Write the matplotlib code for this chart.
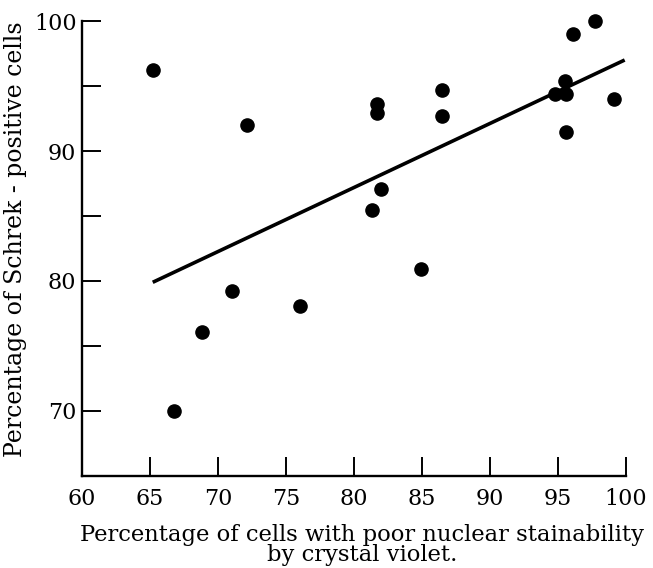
import matplotlib.pyplot as plt

poor_stain = [65.2, 66.8, 68.8, 71.0, 72.1, 76.0, 81.3, 82.0, 81.7, 81.7,
              84.9, 86.5, 86.5, 94.8, 95.6, 95.5, 95.6, 96.1, 97.7, 99.1]
schrek_pos = [96.2, 70.0, 76.1, 79.2, 92.0, 78.1, 85.5, 87.1, 93.6, 92.9,
              80.9, 94.7, 92.7, 94.4, 94.4, 95.4, 91.5, 99.0, 100.0, 94.0]

# regression line end points
line_x = [65.2, 99.9]
line_y = [79.9, 97.0]

x_ticks = [60, 65, 70, 75, 80, 85, 90, 95, 100]
y_ticks = [70, 75, 80, 85, 90, 95, 100]
y_labels = ['70', '', '80', '', '90', '', '100']

plt.rcParams['font.family'] = ['DejaVu Serif']

fig = plt.figure(figsize=(6.53, 5.68), dpi=100)
ax = fig.add_axes([0.1256, 0.162, 0.8331, 0.801])

ax.plot(line_x, line_y, color='black', lw=2.6, solid_capstyle='butt')
ax.scatter(poor_stain, schrek_pos, s=90, color='black', zorder=3, clip_on=False)

ax.set_xlim(60, 100)
ax.set_ylim(65, 100)

for side in ['top', 'right']:
    ax.spines[side].set_visible(False)
for side in ['left', 'bottom']:
    ax.spines[side].set_linewidth(1.7)

ax.set_xticks(x_ticks)
ax.set_yticks(y_ticks)
ax.set_yticklabels(y_labels)
ax.tick_params(axis='both', direction='in', length=13.5, width=1.4, labelsize=16)
ax.tick_params(axis='x', pad=9)
ax.tick_params(axis='y', pad=4)
ax.xaxis.get_major_ticks()[0].tick1line.set_visible(False)

ax.set_xlabel('Percentage of cells with poor nuclear stainability\nby crystal violet.',
              fontsize=16.3, linespacing=0.85, labelpad=10)
ax.xaxis.label.set_x(0.515)
ax.set_ylabel('Percentage of Schrek - positive cells', fontsize=17, labelpad=5)
ax.yaxis.label.set_y(0.52)

fig.savefig('out.png', dpi=100)
